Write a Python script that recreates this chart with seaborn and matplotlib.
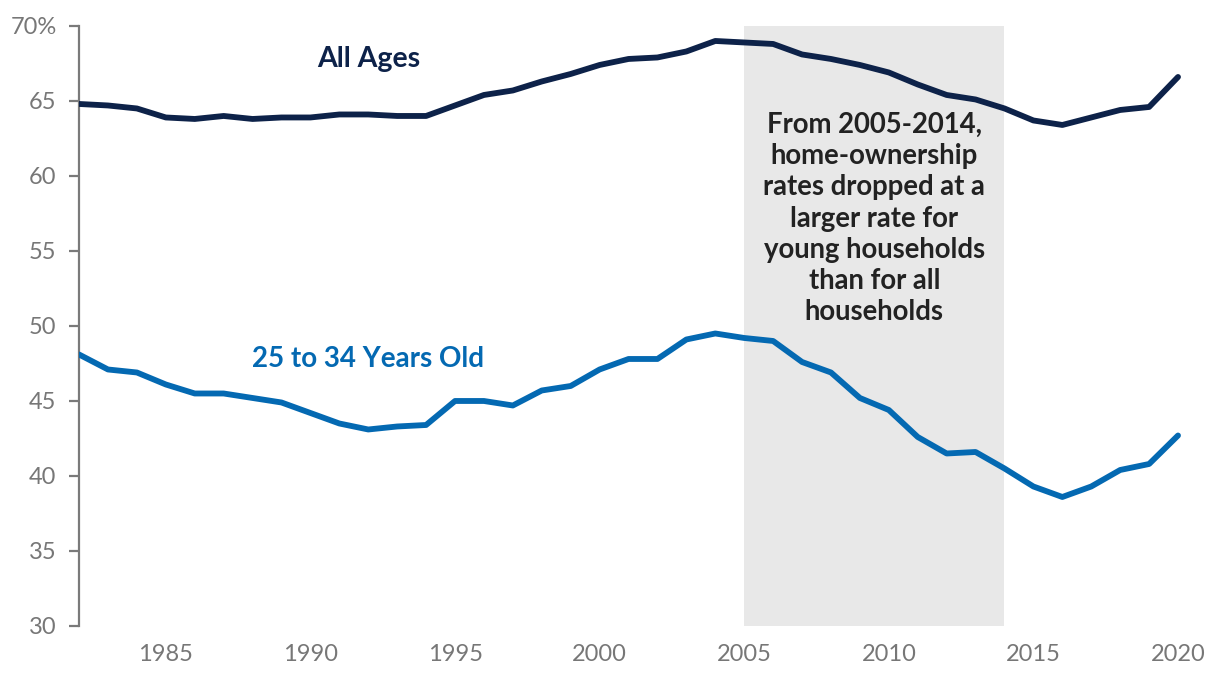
import matplotlib
matplotlib.use("Agg")
import matplotlib.pyplot as plt
import seaborn as sns
import pandas as pd

years = list(range(1982, 2021))
all_ages = [64.8, 64.7, 64.5, 63.9, 63.8, 64.0, 63.8, 63.9, 63.9, 64.1, 64.1, 64.0, 64.0,
            64.7, 65.4, 65.7, 66.3, 66.8, 67.4, 67.8, 67.9, 68.3, 69.0, 68.9, 68.8, 68.1,
            67.8, 67.4, 66.9, 66.1, 65.4, 65.1, 64.5, 63.7, 63.4, 63.9, 64.4, 64.6, 66.6]
young = [48.1, 47.1, 46.9, 46.1, 45.5, 45.5, 45.2, 44.9, 44.2, 43.5, 43.1, 43.3, 43.4,
         45.0, 45.0, 44.7, 45.7, 46.0, 47.1, 47.8, 47.8, 49.1, 49.5, 49.2, 49.0, 47.6,
         46.9, 45.2, 44.4, 42.6, 41.5, 41.6, 40.5, 39.3, 38.6, 39.3, 40.4, 40.8, 42.7]
series_names = ["All Ages", "25 to 34 Years Old"]
colors = ["#0d2249", "#0469b2"]
y_ticks = [30, 35, 40, 45, 50, 55, 60, 65, 70]
y_labels = ["30", "35", "40", "45", "50", "55", "60", "65", "70%"]
x_ticks = [1985, 1990, 1995, 2000, 2005, 2010, 2015, 2020]
shade_start, shade_end = 2005, 2014
note = ("From 2005-2014,\nhome-ownership\nrates dropped at a\nlarger rate for\n"
        "young households\nthan for all\nhouseholds")

df = pd.DataFrame({
    "year": years * 2,
    "rate": all_ages + young,
    "series": [series_names[0]] * len(years) + [series_names[1]] * len(years),
})

sns.set_theme(style="white")
plt.rcParams["font.family"] = ["Lato", "DejaVu Sans"]

fig = plt.figure(figsize=(12.2, 6.78), dpi=100)
ax = fig.add_axes([0.0648, 0.0767, 0.9079, 0.885])

ax.axvspan(shade_start, shade_end, color="#e8e8e8", zorder=0, lw=0)
sns.lineplot(data=df, x="year", y="rate", hue="series", palette=colors,
             hue_order=series_names, linewidth=4.2, ax=ax, legend=False, zorder=3)

ax.set_xlim(1982, 2020.3)
ax.set_ylim(30, 70)
ax.set_yticks(y_ticks)
ax.set_yticklabels(y_labels)
ax.set_xticks(x_ticks)
ax.set_xticklabels([str(x) for x in x_ticks])
ax.set_xlabel("")
ax.set_ylabel("")

for s in ["top", "right", "bottom"]:
    ax.spines[s].set_visible(False)
ax.spines["left"].set_color("#7a7a7a")
ax.spines["left"].set_linewidth(1.6)
ax.tick_params(axis="y", length=7.2, width=1.6, color="#7a7a7a", pad=9,
               labelsize=17, labelcolor="#777777", left=True)
ax.tick_params(axis="x", length=0, pad=13, labelsize=17, labelcolor="#777777")

ax.text(1992.0, 67.8, series_names[0], ha="center", va="center", fontsize=20.5,
        fontweight="bold", color=colors[0])
ax.text(1992.0, 47.8, series_names[1], ha="center", va="center", fontsize=20,
        fontweight="bold", color=colors[1])
ax.text(2009.5, 57.15, note, ha="center", va="center", fontsize=19.8,
        fontweight="bold", color="#222222", linespacing=1.25)

fig.savefig("out.png", dpi=100)
